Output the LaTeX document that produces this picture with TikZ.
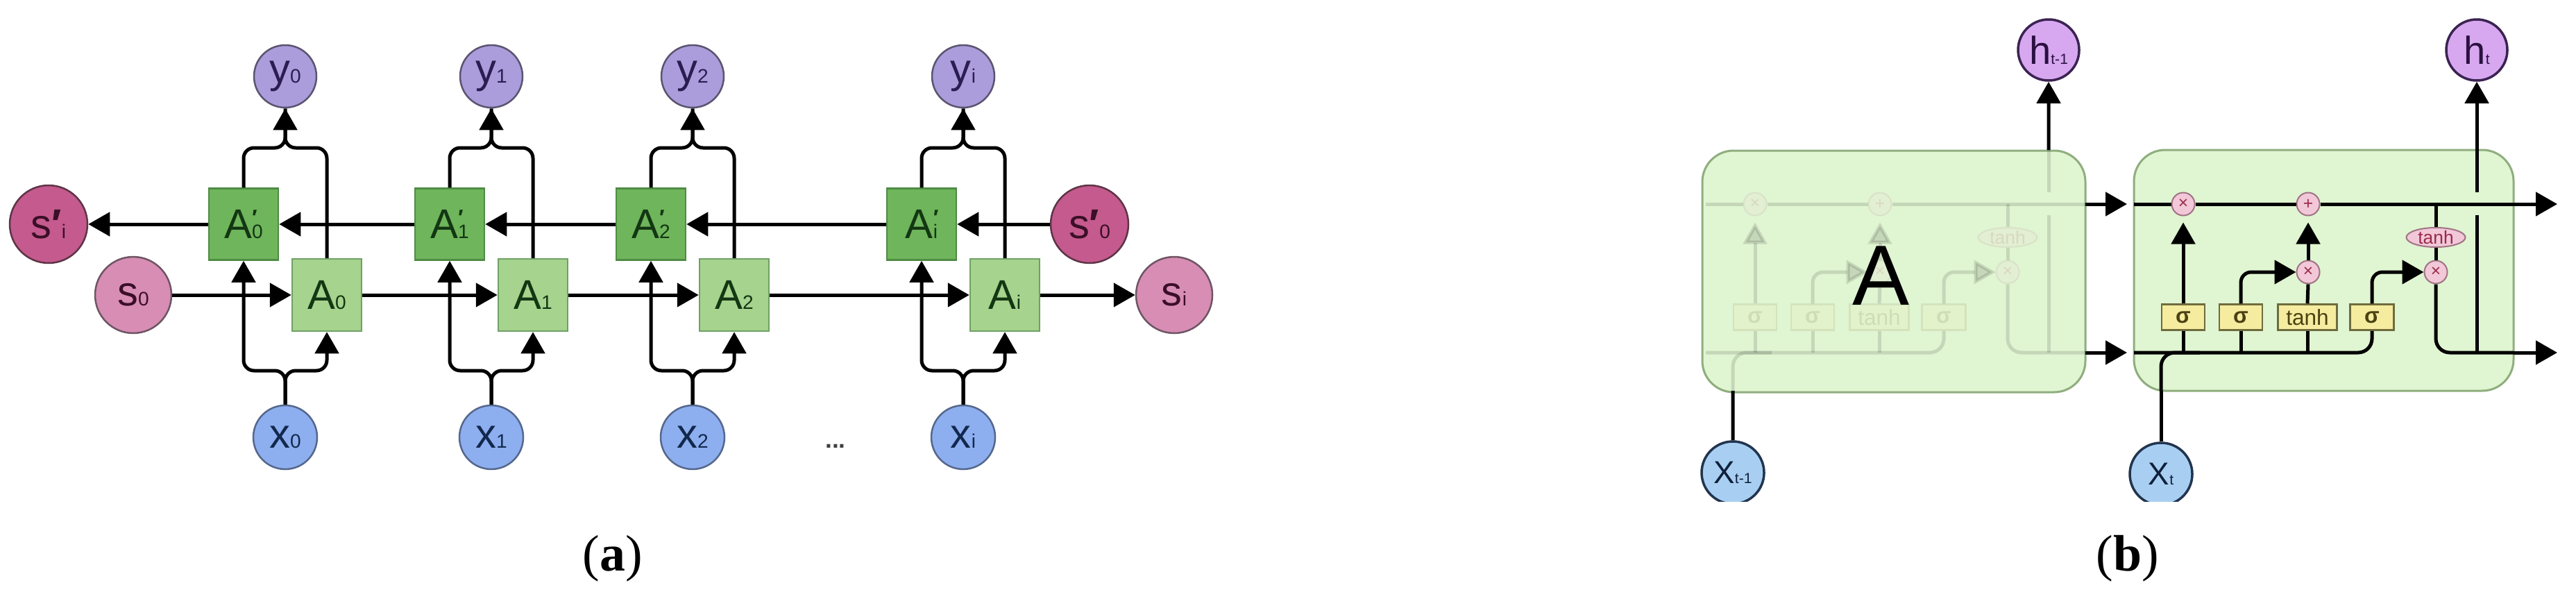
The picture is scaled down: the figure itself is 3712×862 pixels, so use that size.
\documentclass[tikz,border=0pt]{standalone}
\usepackage{fontspec}
\setmainfont{Liberation Sans}
\newfontfamily\capfont{Liberation Serif}
\usetikzlibrary{arrows.meta,shapes.geometric}
\definecolor{ycol}{HTML}{AB9DDB}
\definecolor{ybd}{HTML}{5B5470}
\definecolor{ytx}{HTML}{2B1D52}
\definecolor{xcol}{HTML}{8DAFEF}
\definecolor{xbd}{HTML}{55678C}
\definecolor{xtx}{HTML}{12284D}
\definecolor{spcol}{HTML}{C45A8D}
\definecolor{spbd}{HTML}{5E3447}
\definecolor{scol}{HTML}{D88DB5}
\definecolor{sbd}{HTML}{6E5563}
\definecolor{stx}{HTML}{3A0F27}
\definecolor{apcol}{HTML}{6FB55B}
\definecolor{apbd}{HTML}{4F8C45}
\definecolor{acol}{HTML}{A6D38D}
\definecolor{abd}{HTML}{6FA165}
\definecolor{atx}{HTML}{133613}
\definecolor{cellfill}{HTML}{E0F5D2}
\definecolor{cellbd}{HTML}{8FAE7E}
\definecolor{hcol}{HTML}{D7A8F0}
\definecolor{hbd}{HTML}{3B2352}
\definecolor{htx}{HTML}{2A1040}
\definecolor{Xcol}{HTML}{A8CFF2}
\definecolor{Xbd}{HTML}{22344F}
\definecolor{Xtx}{HTML}{10203A}
\definecolor{gatecol}{HTML}{F6ECA0}
\definecolor{gatebd}{HTML}{6E6C3C}
\definecolor{gatetx}{HTML}{4A4212}
\definecolor{opcol}{HTML}{F2C8D8}
\definecolor{opbd}{HTML}{A07484}
\definecolor{optx}{HTML}{9A2A4A}
\newcommand\labfont{\fontsize{17}{17}\selectfont}
\newcommand\lsub[1]{{\fontsize{8}{8}\selectfont #1}}
\newcommand\lpsub[1]{\rlap{\raisebox{5.5pt}{\fontsize{9}{9}\selectfont\bfseries ′}}\lsub{#1}}
\newcommand\ltsub[1]{{\fontsize{6}{6}\selectfont #1}}
\newcommand\cellinner[1]{%
  \node[opc] (#1m1) at (3146,294) {×};
  \node[opc] (#1p) at (3326,294) {+};
  \node[opc] (#1m2) at (3326,392) {×};
  \node[opc] (#1m3) at (3510,392) {×};
  \node[tanhe] (#1te) at (3510,342) {tanh};
  \node[gate, minimum width=6.2mm] (#1g1) at (3146,457) {\textbf{σ}};
  \node[gate, minimum width=6.2mm] (#1g2) at (3229,457) {\textbf{σ}};
  \node[gate, minimum width=8.5mm] (#1g3) at (3325,457) {tanh};
  \node[gate, minimum width=6.3mm] (#1g4) at (3418,457) {\textbf{σ}};
  \coordinate (#1tl) at (3075,294); \coordinate (#1tr) at (3622,294);
  \coordinate (#1bl) at (3075,508); \coordinate (#1br) at (3622,508);
  \coordinate (#1ht) at (3569,216); \coordinate (#1hb) at (3569,508);
  \coordinate (#1hga) at (3569,310); \coordinate (#1hgb) at (3569,277);
  \coordinate (#1xb) at (3114,563); \coordinate (#1xj) at (3170,508);
  \coordinate (#1tj) at (3510,294);
  \draw[wire] (#1tl) -- (#1m1.west);
  \draw[wire] (#1m1.east) -- (#1p.west);
  \draw[wire] (#1p.east) -- (#1tr);
  \draw[wire,->,shorten >=0.9mm] (#1g1.north) -- (#1m1.south);
  \draw[wire,->,rounded corners=1.5mm] (#1g2.north) |- (#1m2.west);
  \draw[wire] (#1g3.north) -- (#1m2.south);
  \draw[wire,->,shorten >=0.9mm] (#1m2.north) -- (#1p.south);
  \draw[wire,->,rounded corners=1.5mm] (#1g4.north) |- (#1m3.west);
  \draw[wire] (#1tj) -- (#1te.north);
  \draw[wire] (#1te.south) -- (#1m3.north);
  \draw[wire,rounded corners=2mm] (#1m3.south) |- (#1br);
  \draw[wire] (#1hb) -- (#1hga);
  \draw[wire] (#1hgb) -- (#1ht);
  \draw[wire,rounded corners=2mm] (#1bl) -| (#1g4.south);
  \draw[wire] (#1g1.south) -- (#1g1.south |- #1bl);
  \draw[wire] (#1g2.south) -- (#1g2.south |- #1bl);
  \draw[wire] (#1g3.south) -- (#1g3.south |- #1bl);
  \draw[wire,rounded corners=2mm] (#1xb) |- (#1xj);
}
\begin{document}
\begin{tikzpicture}[x=0.1mm,y=-0.1mm,
  >={Triangle[width=3.4mm,length=3.1mm]},
  wire/.style={line width=0.5mm, draw=black},
  ycirc/.style={circle, minimum size=9mm, inner sep=0pt, fill=ycol, draw=ybd, line width=0.25mm, text=ytx, font=\labfont},
  xcirc/.style={circle, minimum size=9.2mm, inner sep=0pt, fill=xcol, draw=xbd, line width=0.25mm, text=xtx, font=\labfont},
  spcirc/.style={circle, minimum size=11.2mm, inner sep=0pt, fill=spcol, draw=spbd, line width=0.25mm, text=stx, font=\labfont},
  scirc/.style={circle, minimum size=11mm, inner sep=0pt, fill=scol, draw=sbd, line width=0.25mm, text=stx, font=\labfont},
  apbox/.style={rectangle, minimum width=10mm, minimum height=10.3mm, inner sep=0pt, fill=apcol, draw=apbd, line width=0.25mm, text=atx, font=\labfont},
  abox/.style={rectangle, minimum width=10mm, minimum height=10.4mm, inner sep=0pt, fill=acol, draw=abd, line width=0.25mm, text=atx, font=\labfont},
  dots/.style={inner sep=0pt, font=\fontsize{10}{10}\selectfont\bfseries, text=black!75},
  captext/.style={inner sep=0pt, font=\capfont\fontsize{21}{21}\selectfont},
  cellbox/.style={rectangle, rounded corners=4.5mm, inner sep=0pt, fill=cellfill, draw=cellbd, line width=0.3mm},
  bigA/.style={inner sep=0pt, font=\fontsize{35}{35}\selectfont},
  hcirc/.style={circle, minimum size=8.8mm, inner sep=0pt, fill=hcol, draw=hbd, line width=0.35mm, text=htx, font=\fontsize{16}{16}\selectfont},
  Xcirc/.style={circle, minimum size=9mm, inner sep=0pt, fill=Xcol, draw=Xbd, line width=0.35mm, text=Xtx, font=\fontsize{13}{13}\selectfont},
  gate/.style={rectangle, minimum height=3.7mm, inner sep=0pt, fill=gatecol, draw=gatebd, line width=0.25mm, text=gatetx, font=\fontsize{9}{9}\selectfont},
  opc/.style={circle, minimum size=3.3mm, inner sep=0pt, fill=opcol, draw=opbd, line width=0.2mm, text=optx, font=\fontsize{7}{7}\selectfont},
  tanhe/.style={ellipse, minimum width=8.5mm, minimum height=2.8mm, inner sep=0pt, fill=opcol, draw=opbd, line width=0.2mm, text=optx, font=\fontsize{7.5}{7.5}\selectfont}
]
\fill[white] (0,0) rectangle (3712,862);
\useasboundingbox (0,0) rectangle (3712,862);

% ---------------- part (a) ----------------
\foreach \cx/\nm/\lbl in {411/0/0,708/1/1,998/2/2,1388/3/i}{
  \node[ycirc] (y\nm) at (\cx,110) {y\lsub{\lbl}};
  \node[xcirc] (x\nm) at (\cx,630) {x\lsub{\lbl}};
  \node[apbox] (Ap\nm) at (\cx-60,323) {A\lpsub{\lbl}};
  \node[abox] (A\nm) at (\cx+60,425) {A\lsub{\lbl}};
  \draw[wire,->,rounded corners=1.5mm] (Ap\nm.north) -- (\cx-60,213) -- (\cx,213) -- (y\nm.south);
  \draw[wire,rounded corners=1.5mm] (A\nm.north) -- (\cx+60,213) -- (\cx,213) -- (y\nm.south);
  \draw[wire,->,rounded corners=1.5mm] (x\nm.north) -- (\cx,534) -- (\cx-60,534) -- (Ap\nm.south);
  \draw[wire,->,rounded corners=1.5mm] (x\nm.north) -- (\cx,534) -- (\cx+60,534) -- (A\nm.south);
}
\node[spcirc] (spi) at (70,323) {s\textbf{′}\lsub{i}};
\node[scirc] (s0) at (192,425) {s\lsub{0}};
\node[spcirc] (sp0) at (1570,323) {s\textbf{′}\lsub{0}};
\node[scirc] (si) at (1692,425) {s\lsub{i}};
\node[dots] (dd) at (1204,643) {...};

\draw[wire,->] (s0.east) -- (A0.west);
\draw[wire,->] (A0.east) -- (A1.west);
\draw[wire,->] (A1.east) -- (A2.west);
\draw[wire,->] (A2.east) -- (A3.west);
\draw[wire,->] (A3.east) -- (si.west);
\draw[wire,->] (sp0.west) -- (Ap3.east);
\draw[wire,->] (Ap3.west) -- (Ap2.east);
\draw[wire,->] (Ap2.west) -- (Ap1.east);
\draw[wire,->] (Ap1.west) -- (Ap0.east);
\draw[wire,->] (Ap0.west) -- (spi.east);

\node[captext] (capa) at (883,805) {(\textbf{a})};

% ---------------- part (b) ----------------
\node[cellbox, minimum width=55.2mm, minimum height=34.8mm] (boxA) at (2729,391) {};
\node[cellbox, minimum width=54.7mm, minimum height=34.7mm] (boxB) at (3348.5,389.5) {};
\begin{scope}[xshift=-61.7mm, opacity=0.12]
  \cellinner{g}
\end{scope}
\node[bigA] (Alab) at (2710,397) {A};
\cellinner{c}
\coordinate (outT) at (3685,294);
\coordinate (outB) at (3685,508);
\draw[wire,->,shorten >=1mm] (gtr) -- (ctl);
\draw[wire,->,shorten >=1mm] (gbr) -- (cbl);
\draw[wire,->] (ctr) -- (outT);
\draw[wire,->] (cbr) -- (outB);
\node[hcirc] (hm) at (2952,72) {h\ltsub{t-1}};
\node[hcirc] (ht) at (3569,72) {h\ltsub{t}};
\draw[wire,->] (ght) -- (hm.south);
\draw[wire,->] (cht) -- (ht.south);
\begin{scope}
  \clip (2400,0) rectangle (3712,722);
  \node[Xcirc] (Xm) at (2497,681) {X\ltsub{t-1}};
  \node[Xcirc] (Xt) at (3114,683) {X\ltsub{t}};
\end{scope}
\draw[wire] (Xm.north) -- (gxb);
\draw[wire] (Xt.north) -- (cxb);

\node[captext] (capb) at (3066,805) {(\textbf{b})};
\end{tikzpicture}
\end{document}
